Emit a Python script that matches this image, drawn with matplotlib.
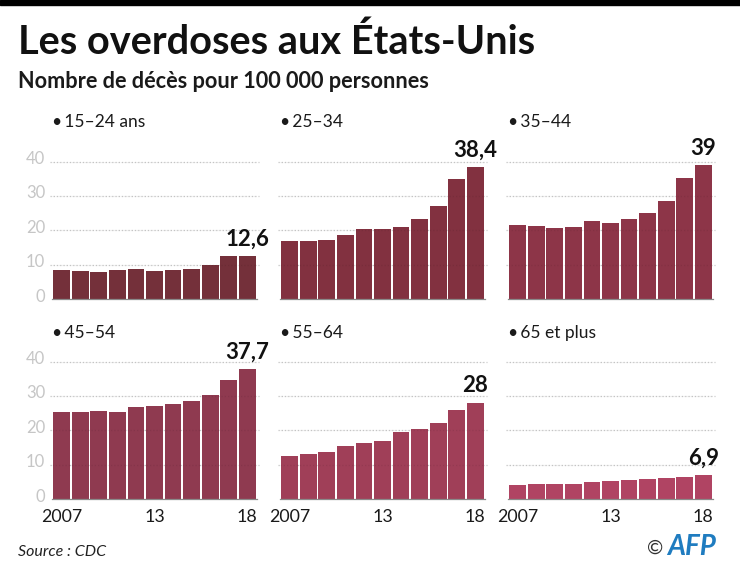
#!/usr/bin/env python3

import matplotlib.pyplot as plt
from matplotlib.patches import Rectangle
from matplotlib.transforms import ScaledTranslation

W = 740
H = 574

groups = ["15–24 ans", "25–34", "35–44", "45–54", "55–64", "65 et plus"]
vals_15_24 = [8.4, 8.2, 7.9, 8.4, 8.8, 8.1, 8.5, 8.8, 9.9, 12.5, 12.6]
vals_25_34 = [16.9, 16.9, 17.3, 18.6, 20.4, 20.3, 21.0, 23.3, 27.1, 34.9, 38.4]
vals_35_44 = [21.6, 21.3, 20.6, 21.0, 22.7, 22.2, 23.2, 25.1, 28.4, 35.2, 39.0]
vals_45_54 = [25.3, 25.4, 25.6, 25.3, 26.9, 27.1, 27.7, 28.4, 30.2, 34.7, 37.7]
vals_55_64 = [12.5, 13.0, 13.8, 15.3, 16.2, 16.8, 19.5, 20.5, 22.0, 25.8, 28.0]
vals_65 = [4.0, 4.3, 4.5, 4.5, 4.9, 5.2, 5.5, 5.8, 6.0, 6.4, 6.9]
all_vals = [vals_15_24, vals_25_34, vals_35_44, vals_45_54, vals_55_64, vals_65]
last_labels = ["12,6", "38,4", "39", "37,7", "28", "6,9"]
colors = ["#74303a", "#823140", "#8d3548", "#8f3a50", "#a03f58", "#b04463"]
y_ticks = [0, 10, 20, 30, 40]
x_ticks = [0, 5, 10]
x_labels = ["2007", "13", "18"]

plt.rcParams["font.family"] = ["Lato", "DejaVu Sans"]

fig = plt.figure(figsize=(W / 100, H / 100), dpi=100)


def fx(px):
    return px / W


def fy(px):
    return 1 - px / H


# black band at the very top
fig.add_artist(Rectangle((0, fy(5)), 1, 5 / H, transform=fig.transFigure, color="black"))

fig.text(fx(18), fy(54), "Les overdoses aux États-Unis", fontsize=28.6, fontweight="bold", color="#111111")
fig.text(fx(18), fy(88), "Nombre de décès pour 100 000 personnes", fontsize=15.6, fontweight="bold", color="#1a1a1a")

lefts = [52, 280, 508, 52, 280, 508]
bases = [299, 299, 299, 499, 499, 499]
label_y = [122, 122, 122, 333, 333, 333]

for i, vals in enumerate(all_vals):
    ax = fig.add_axes([fx(lefts[i]), fy(bases[i]), 205 / W, 137.5 / H])
    xs = list(range(len(vals)))
    ax.hlines(y_ticks[1:], -0.62, 10.62, colors="#c4c4c4", linestyles=(0, (1, 1.6)), linewidth=0.9, zorder=1, clip_on=False)
    ax.bar(xs, vals, width=0.9, color=colors[i], zorder=2)
    # the dotted lines show faintly through the bars
    ax.hlines(y_ticks[1:], -0.52, 10.52, colors="black", alpha=0.07, linestyles=(0, (1, 1.6)), linewidth=0.9, zorder=3)
    ax.set_xlim(-0.52, 10.52)
    ax.set_ylim(0, 40)

    for s in ["top", "left", "right"]:
        ax.spines[s].set_visible(False)
    ax.spines["bottom"].set_color("#8a8a8a")
    ax.spines["bottom"].set_linewidth(0.9)
    ax.spines["bottom"].set_zorder(4)

    if i % 3 == 0:
        ax.set_yticks(y_ticks)
        ax.tick_params(axis="y", length=0, pad=5, labelsize=12, labelcolor="#c6c6c6")
        # tick labels sit a little above their lines
        for lab in ax.get_yticklabels():
            lab.set_transform(lab.get_transform() + ScaledTranslation(0, 4 / 100, fig.dpi_scale_trans))
    else:
        ax.set_yticks([])

    if i >= 3:
        ax.set_xticks(x_ticks)
        ax.set_xticklabels(x_labels)
        ax.tick_params(axis="x", length=0, pad=7, labelsize=12.8, labelcolor="#1a1a1a")
    else:
        ax.set_xticks([])

    ax.annotate(last_labels[i], (xs[-1], vals[-1]), xytext=(0, 4.5), textcoords="offset points",
                ha="center", va="bottom", fontsize=16, fontweight="bold", color="#111111",
                annotation_clip=False)
    fig.text(fx(lefts[i]), fy(label_y[i]), "•\u2009" + groups[i], fontsize=12.5, va="center", color="#1a1a1a")

fig.text(fx(18), fy(552), "Source : CDC", fontsize=11.5, style="italic", va="center", color="#222222")
fig.text(fx(647), fy(548), "©", fontsize=14, va="center", color="#333333")
fig.text(fx(667), fy(547), "AFP", fontsize=20, fontweight="bold", style="italic", va="center", color="#1f7cc0")

fig.savefig("out.png", dpi=100)
